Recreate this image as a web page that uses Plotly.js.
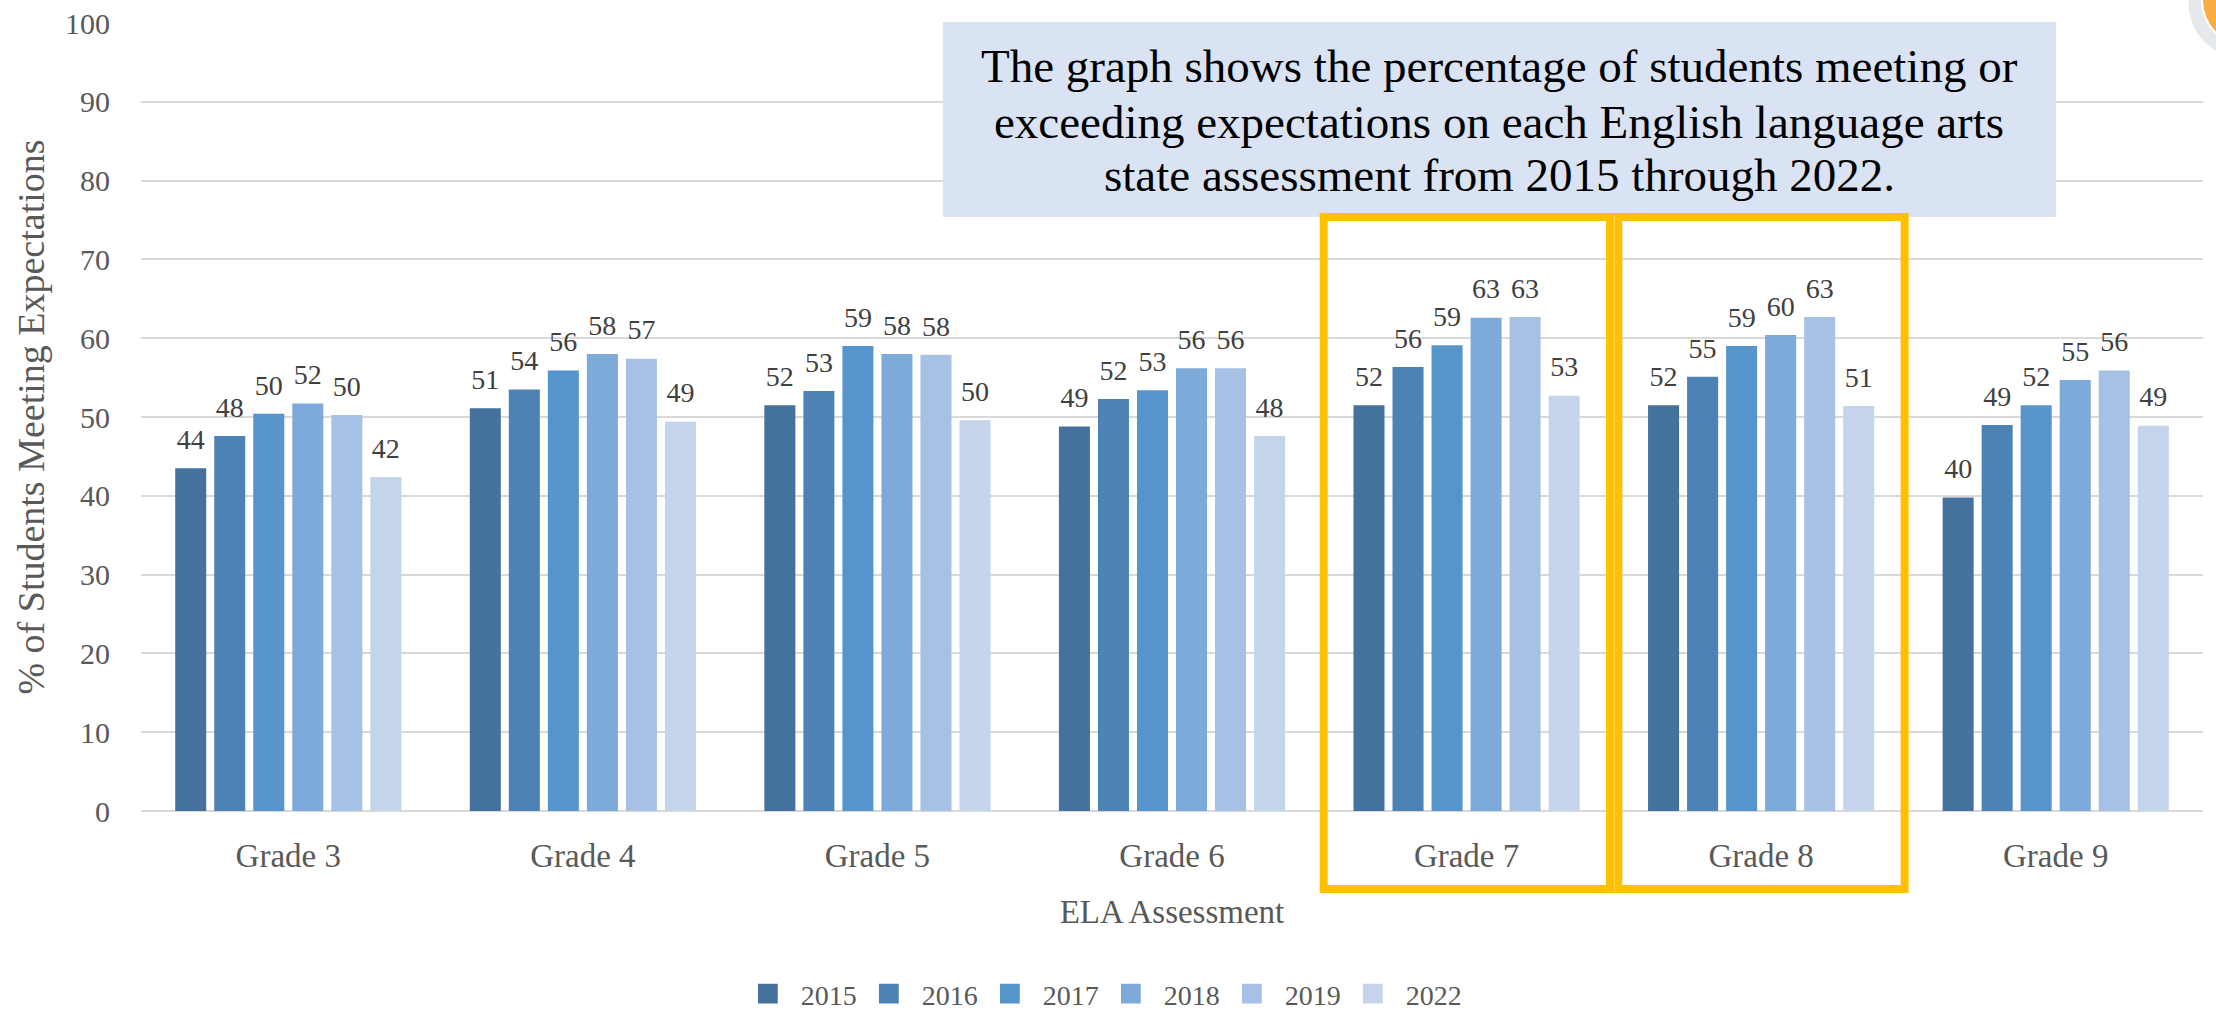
<!DOCTYPE html>
<html>
<head>
<meta charset="utf-8">
<script src="https://cdn.plot.ly/plotly-3.0.1.min.js"></script>
<style>html,body{margin:0;padding:0;background:#fff;}#chart{width:2216px;height:1016px;}</style>
</head>
<body>
<div id="chart"></div>
<script>
// ---- data ----
const grades = ["Grade 3", "Grade 4", "Grade 5", "Grade 6", "Grade 7", "Grade 8", "Grade 9"];
const years = ["2015", "2016", "2017", "2018", "2019", "2022"];
const y2015 = [43.5, 51.1, 51.5, 48.8, 51.5, 51.5, 39.8];
const y2016 = [47.6, 53.5, 53.3, 52.3, 56.35, 55.1, 49.0];
const y2017 = [50.4, 55.9, 59.0, 53.4, 59.1, 59.0, 51.5];
const y2018 = [51.7, 58.0, 58.0, 56.2, 62.6, 60.4, 54.7];
const y2019 = [50.25, 57.4, 57.9, 56.2, 62.7, 62.7, 55.9];
const y2022 = [42.4, 49.4, 49.6, 47.6, 52.7, 51.4, 48.9];
const seriesValues = [y2015, y2016, y2017, y2018, y2019, y2022];
const colors = ["#44729D", "#4D82B5", "#5794CB", "#7EAADA", "#A6C1E4", "#C4D5EB"];
const highlighted = ["Grade 7", "Grade 8"];
const noteLines = [
  "The graph shows the percentage of students meeting or",
  "exceeding expectations on each English language arts",
  "state assessment from 2015 through 2022."
];

const FONT = "'Liberation Serif', 'Times New Roman', serif";
const GAP = 0.205;

const traces = [];
years.forEach((yr, i) => {
  traces.push({
    type: "bar", name: yr, x: grades, y: seriesValues[i],
    marker: {color: colors[i]},
    hoverinfo: "x+y+name"
  });
});
// value labels, grouped like the bars
years.forEach((yr, i) => {
  traces.push({
    type: "scatter", mode: "markers+text", name: yr + " label", showlegend: false,
    x: grades, y: seriesValues[i],
    texttemplate: "%{y:.0f}", textposition: "top center",
    textfont: {family: FONT, size: 28, color: "#404040"},
    marker: {size: 18, opacity: 0, color: colors[i]},
    hoverinfo: "skip", cliponaxis: false
  });
});

const shapes = [];
// note box
shapes.push({type: "rect", xref: "paper", yref: "paper", x0: 0.3889, x1: 0.9287, y0: 0.7538, y1: 1.0013,
  fillcolor: "#DAE3F3", line: {width: 0}, layer: "above"});
// highlight boxes around categories
highlighted.forEach(g => {
  const idx = grades.indexOf(g);
  shapes.push({type: "rect", xref: "x", yref: "paper", x0: idx - 0.485, x1: idx + 0.487,
    y0: -0.099, y1: 0.7538, line: {color: "#FFC000", width: 8}, fillcolor: "rgba(0,0,0,0)", layer: "above"});
});
// decorative corner badge
shapes.push({type: "circle", xref: "paper", yref: "paper", x0: 0.993, x1: 1.047, y0: 0.955, y1: 1.095,
  fillcolor: "rgba(90,110,130,0.15)", line: {width: 0}, layer: "above"});
shapes.push({type: "circle", xref: "paper", yref: "paper", x0: 0.9995, x1: 1.045, y0: 0.97, y1: 1.09,
  fillcolor: "#F9AD42", line: {color: "#ffffff", width: 2}, layer: "above"});

const noteY = [0.945, 0.875, 0.807];
const annotations = noteLines.map((t, i) => ({
  xref: "paper", yref: "paper", x: 0.6588, y: noteY[i], xanchor: "center", yanchor: "middle",
  text: t, showarrow: false, align: "center",
  font: {family: FONT, size: 47, color: "#000000"}
}));

const layout = {
  width: 2216, height: 1016,
  margin: {l: 141, r: 13, t: 23, b: 205},
  paper_bgcolor: "#ffffff", plot_bgcolor: "#ffffff",
  barmode: "group", bargap: GAP, bargroupgap: GAP,
  scattermode: "group", scattergap: GAP,
  font: {family: FONT, color: "#595959"},
  showlegend: true,
  legend: {orientation: "h", x: 0.288, xanchor: "left", yref: "container", y: 0.0217, yanchor: "middle",
    font: {family: FONT, size: 28, color: "#595959"}, itemwidth: 56, entrywidth: 50, entrywidthmode: "pixels",
    traceorder: "normal"},
  xaxis: {
    type: "category", showgrid: false, showline: false, ticks: "",
    tickfont: {family: FONT, size: 33, color: "#595959"}, ticklabelstandoff: 22,
    title: {text: "ELA Assessment", font: {family: FONT, size: 33, color: "#595959"}, standoff: 26},
    automargin: false
  },
  yaxis: {
    range: [0, 100], dtick: 10, showgrid: true, gridcolor: "#D9D9D9", gridwidth: 2,
    zeroline: true, zerolinecolor: "#D9D9D9", zerolinewidth: 2, showline: false, ticks: "",
    tickfont: {family: FONT, size: 30, color: "#595959"}, ticklabelstandoff: 30,
    title: {text: "% of Students Meeting Expectations", font: {family: FONT, size: 38, color: "#595959"}, standoff: 8},
    automargin: false, fixedrange: true
  },
  shapes: shapes,
  annotations: annotations
};

Plotly.newPlot("chart", traces, layout, {displayModeBar: false, staticPlot: true}).then(() => {
  document.querySelectorAll("#chart .legend .legendpoints path").forEach(p => {
    const t = p.getAttribute("transform") || "";
    p.setAttribute("transform", t + " scale(1.65)");
  });
});
</script>
</body>
</html>
